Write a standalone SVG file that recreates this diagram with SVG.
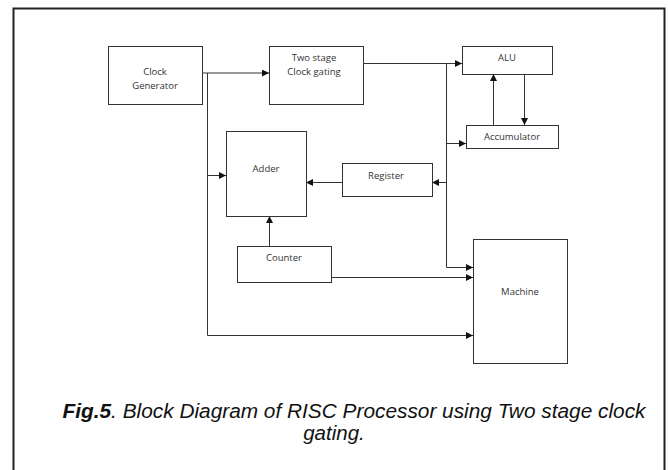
<svg xmlns="http://www.w3.org/2000/svg" width="668" height="470" viewBox="0 0 668 470">
<defs>
<marker id="ah" viewBox="0 0 10 10" refX="10" refY="5" markerWidth="7" markerHeight="7" markerUnits="userSpaceOnUse" orient="auto">
<path d="M0,0 L10,5 L0,10 z" fill="#111"/>
</marker>
<style>
.box{fill:#fff;stroke:#333;stroke-width:1}
.lbl{font-family:"Open Sans","Noto Sans",sans-serif;font-size:9.5px;fill:#333;text-anchor:middle}
.c{fill:none;stroke:#333;stroke-width:1}
.a{marker-end:url(#ah)}
.cap{font-family:"Liberation Sans",Arial,sans-serif;font-size:20.5px;font-style:italic;fill:#111;text-anchor:middle}
</style>
</defs>
<rect width="668" height="470" fill="#fff"/>
<rect x="13.5" y="8.5" width="651" height="470" fill="none" stroke="#222" stroke-width="2"/>
<g id="connectors">
<path class="c a" d="M202,73 H269"/>
<path class="c a" d="M207.5,73 V335.5 H473"/>
<path class="c a" d="M207.5,175.5 H226"/>
<path class="c a" d="M363,63.5 H462"/>
<path class="c a" d="M446.5,63.5 V267.5 H473"/>
<path class="c a" d="M446.5,143.5 H466"/>
<path class="c a" d="M446.5,182.5 H432"/>
<path class="c a" d="M342,182.5 H306"/>
<path class="c a" d="M493.5,125 V74"/>
<path class="c a" d="M524.5,74 V125"/>
<path class="c a" d="M269.5,246 V216"/>
<path class="c a" d="M331,277.5 H473"/>
</g>
<g id="clock-generator"><rect class="box" x="108.5" y="46.5" width="94" height="58"/><text class="lbl" x="155" y="75">Clock</text><text class="lbl" x="155" y="89">Generator</text></g>
<g id="two-stage"><rect class="box" x="269.5" y="46.5" width="94" height="58"/><text class="lbl" x="314" y="61">Two stage</text><text class="lbl" x="314" y="75">Clock gating</text></g>
<g id="alu"><rect class="box" x="462.5" y="46.5" width="90" height="28"/><text class="lbl" x="507" y="61">ALU</text></g>
<g id="accumulator"><rect class="box" x="466.5" y="125.5" width="92" height="23"/><text class="lbl" x="512" y="140">Accumulator</text></g>
<g id="adder"><rect class="box" x="226.5" y="131.5" width="80" height="85"/><text class="lbl" x="266" y="172">Adder</text></g>
<g id="register"><rect class="box" x="342.5" y="163.5" width="90" height="33"/><text class="lbl" x="386" y="179">Register</text></g>
<g id="counter"><rect class="box" x="237.5" y="246.5" width="94" height="36"/><text class="lbl" x="284" y="261">Counter</text></g>
<g id="machine"><rect class="box" x="473.5" y="239.5" width="94" height="124"/><text class="lbl" x="520" y="295">Machine</text></g>
<text class="cap" x="354" y="418" textLength="583" lengthAdjust="spacingAndGlyphs"><tspan font-weight="bold">Fig.5</tspan>. Block Diagram of RISC Processor using Two stage clock</text>
<text class="cap" x="334" y="440">gating.</text>
</svg>
